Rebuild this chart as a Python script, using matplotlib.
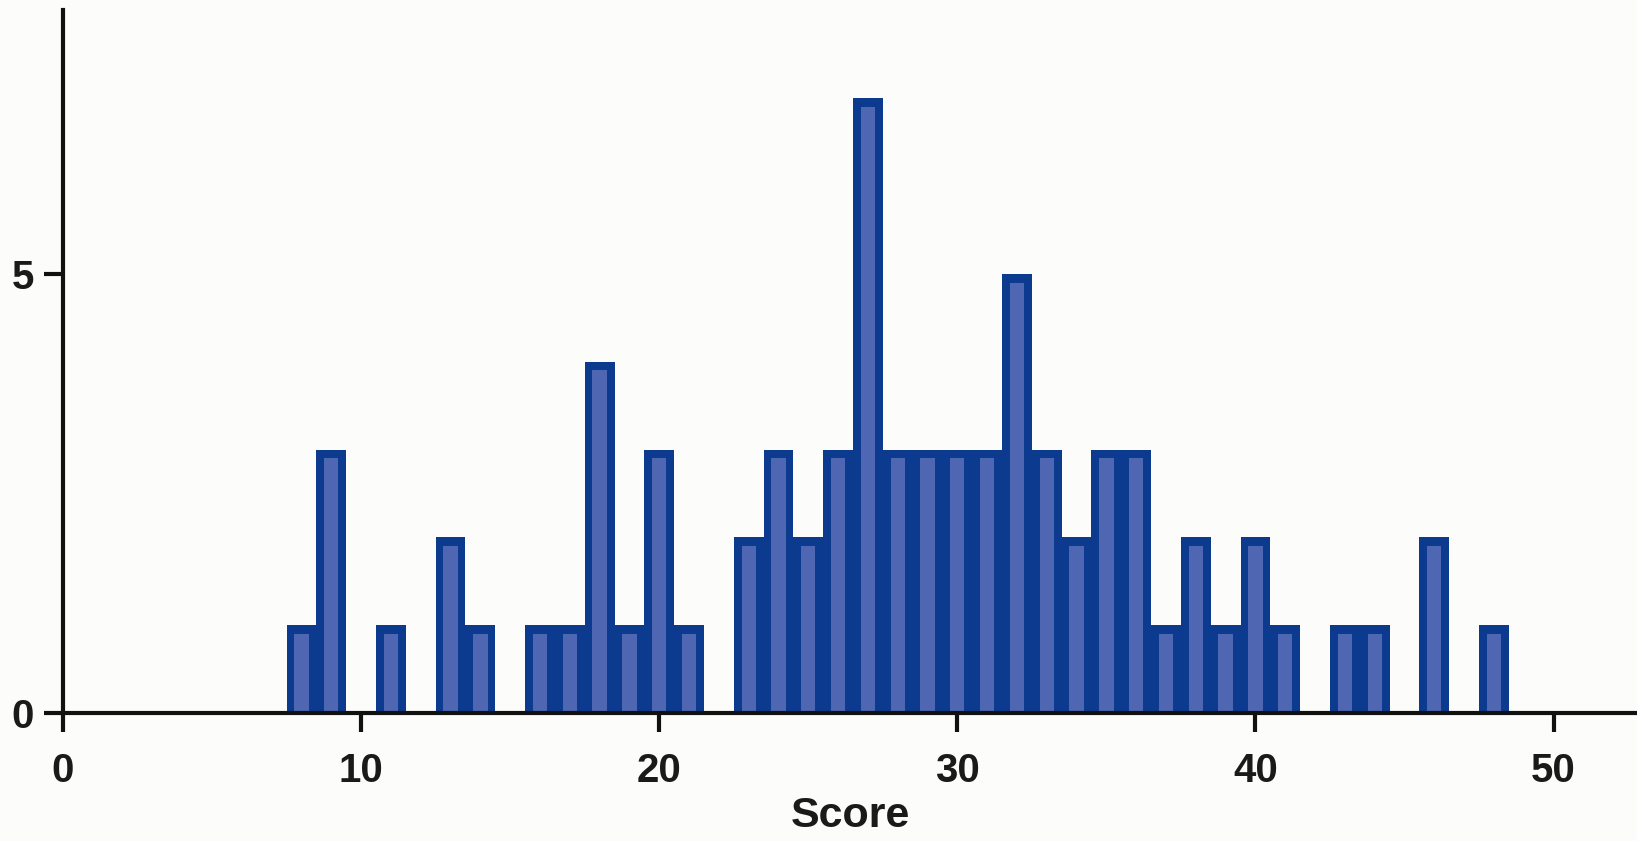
import matplotlib
matplotlib.use('Agg')
import matplotlib.pyplot as plt
import numpy as np

# score -> number of students
scores = list(range(8, 49))
counts = [1, 3, 0, 1, 0, 2, 1, 0, 1, 1, 4, 1, 3, 1, 0, 2, 3, 2, 3, 7,
          3, 3, 3, 3, 5, 3, 2, 3, 3, 1, 2, 1, 2, 1, 0, 1, 1, 0, 2, 0, 1]
xticks = [0, 10, 20, 30, 40, 50]
yticks = [0, 5]

dark = '#0b3a8e'
light = '#4f66b3'
bg = '#fcfcfa'

plt.rcParams['font.family'] = ['Liberation Sans', 'DejaVu Sans']

fig = plt.figure(figsize=(16.37, 8.41), dpi=100, facecolor=bg)
ax = fig.add_axes([0.0385, 0.152, 0.9615, 0.836])
ax.set_facecolor(bg)

s = np.array(scores)
c = np.array(counts, dtype=float)
ax.bar(s, c, width=1.0, color=dark, linewidth=0, zorder=2)
m = c > 0
ax.bar(s[m], c[m] - 0.1, width=0.48, color=light, linewidth=0, zorder=3)

ax.set_xlim(0, 52.8)
ax.set_ylim(0, 8.0)
ax.set_xticks(xticks)
ax.set_yticks(yticks)

for side in ['top', 'right']:
    ax.spines[side].set_visible(False)
for side in ['left', 'bottom']:
    ax.spines[side].set_linewidth(3)
    ax.spines[side].set_color('#111111')
    ax.spines[side].set_zorder(4)

ax.tick_params(axis='both', direction='out', length=14, width=3, color='#111111',
               labelsize=29)
ax.tick_params(axis='x', pad=14)
ax.tick_params(axis='y', pad=7)
for lab in ax.get_xticklabels() + ax.get_yticklabels():
    lab.set_fontweight('bold')
    lab.set_color('#1a1a1a')

ax.set_xlabel('Score', fontsize=31, fontweight='bold', color='#1a1a1a', labelpad=4)

fig.savefig('out.png', dpi=100, facecolor=bg)
